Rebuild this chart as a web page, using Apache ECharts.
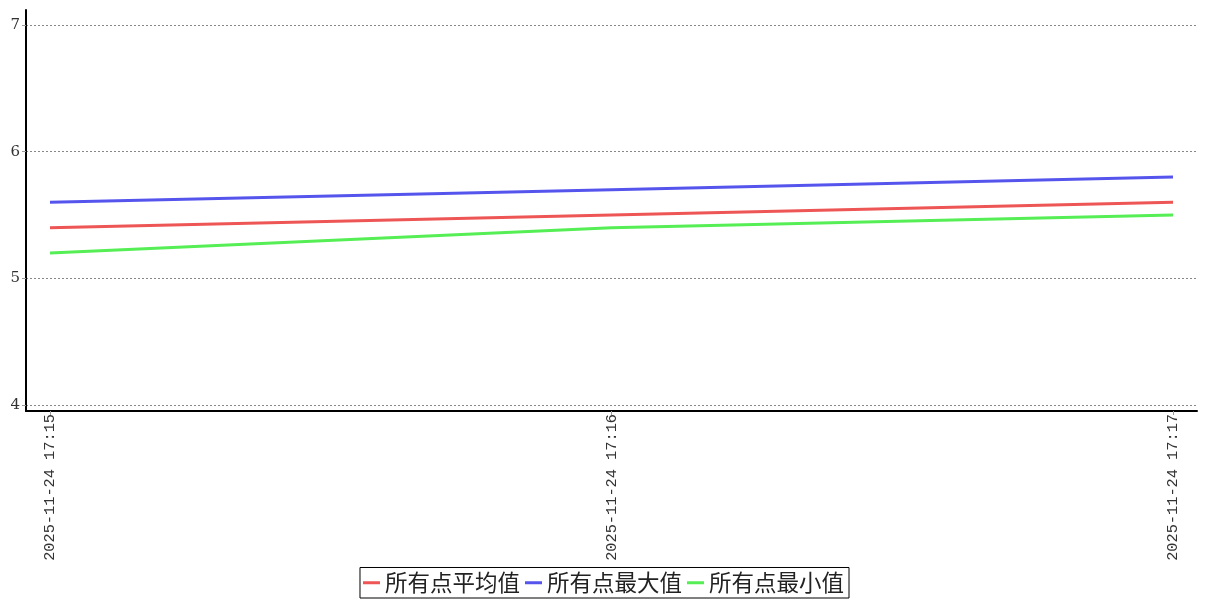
<!DOCTYPE html>
<html><head><meta charset="utf-8">
<script src="https://cdn.jsdelivr.net/npm/echarts@6/dist/echarts.min.js"></script>
<style>html,body{margin:0;padding:0;background:#fff}#c{width:1207px;height:600px}</style>
</head><body><div id="c"></div>
<script>
const categories = ['2025-11-24 17:15', '2025-11-24 17:16', '2025-11-24 17:17'];
const avgValues = [5.4, 5.5, 5.6];
const maxValues = [5.6, 5.7, 5.8];
const minValues = [5.2, 5.4, 5.5];
const seriesNames = ['所有点平均值', '所有点最大值', '所有点最小值'];
const yTicks = [4, 5, 6, 7];
const colors = ['#ee5555', '#5555ee', '#55ee55'];

const toPts = arr => arr.map((v, i) => [i, v]);
const chart = echarts.init(document.getElementById('c'), null, {renderer: 'canvas'});
const serif = '"DejaVu Serif", "Liberation Serif", serif';
chart.setOption({
  animation: false,
  backgroundColor: '#fff',
  grid: {left: 26, right: 10, top: 10, bottom: 189, containLabel: false},
  xAxis: {
    type: 'value', min: -0.0427, max: 2.0427,
    axisLine: {show: true, onZero: false, lineStyle: {color: '#000', width: 2}},
    axisTick: {show: true, customValues: [0, 1, 2], length: 4, lineStyle: {color: '#999'}},
    axisLabel: {customValues: [0, 1, 2], rotate: 90, margin: 3, color: '#333',
      fontFamily: '"Liberation Mono", "DejaVu Sans Mono", monospace', fontSize: 15.3,
      formatter: v => categories[Math.round(v)]},
    splitLine: {show: false}
  },
  yAxis: {
    type: 'value', min: 3.9526, max: 7.1184,
    axisLine: {show: true, onZero: false, lineStyle: {color: '#000', width: 2}},
    axisTick: {show: true, customValues: yTicks, length: 4, lineStyle: {color: '#999'}},
    axisLabel: {customValues: yTicks, margin: 6, color: '#333', fontFamily: serif, fontSize: 15},
    splitLine: {show: true, lineStyle: {color: '#888', type: [2, 2], width: 1}}
  },
  legend: {
    bottom: 2, left: 'center',
    data: seriesNames,
    borderColor: '#000', borderWidth: 1, borderRadius: 0,
    padding: [4, 5, 4, 3],
    itemGap: 5, itemWidth: 17, itemHeight: 3, icon: 'rect',
    textStyle: {fontSize: 22.5, color: '#222', fontFamily: '"Noto Sans CJK SC", sans-serif'}
  },
  series: [avgValues, maxValues, minValues].map((arr, k) => ({
    name: seriesNames[k], type: 'line', data: toPts(arr),
    showSymbol: false, symbol: 'none',
    itemStyle: {color: colors[k]},
    lineStyle: {color: colors[k], width: 3}
  }))
});
</script></body></html>
